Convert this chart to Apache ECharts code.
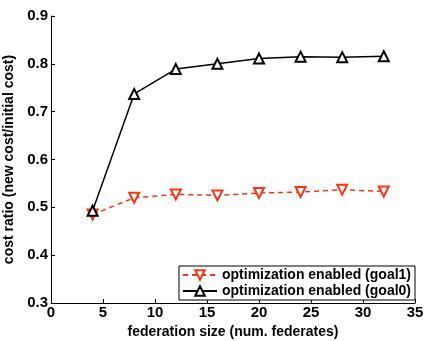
<!DOCTYPE html>
<html>
<head>
<meta charset="utf-8">
<script src="https://cdn.jsdelivr.net/npm/echarts@6/dist/echarts.min.js"></script>
<style>
html, body { margin: 0; padding: 0; background: #fff; }
#chart { width: 424px; height: 341px; }
</style>
</head>
<body>
<div id="chart"></div>
<script>
// federation sizes and cost ratios
var sizes = [4, 8, 12, 16, 20, 24, 28, 32];
var goal1 = [0.485, 0.520, 0.527, 0.525, 0.530, 0.532, 0.537, 0.533];
var goal0 = [0.493, 0.737, 0.789, 0.800, 0.811, 0.815, 0.814, 0.816];
var names = ['optimization enabled (goal1)', 'optimization enabled (goal0)'];

function pairs(xs, ys) {
	var out = [];
	for (var i = 0; i < xs.length; i++) out.push([xs[i], ys[i]]);
	return out;
}

var font = 'Liberation Sans, Arial, sans-serif';
var chart = echarts.init(document.getElementById('chart'));
var option = {
	animation: false,
	backgroundColor: '#fff',
	textStyle: { fontFamily: font },
	grid: { left: 51, right: 9, top: 16, bottom: 38, outerBoundsMode: 'none', containLabel: false },
	legend: {
		orient: 'vertical',
		right: 9,
		bottom: 41,
		data: names,
		backgroundColor: '#fff',
		borderColor: '#000',
		borderWidth: 1,
		padding: [2, 4, 2, 3],
		itemGap: 2,
		itemWidth: 34,
		itemHeight: 12,
		textStyle: { fontFamily: font, fontWeight: 'bold', fontSize: 14, color: '#000' }
	},
	xAxis: {
		type: 'value',
		min: 0, max: 35, interval: 5,
		name: 'federation size (num. federates)',
		nameLocation: 'middle',
		nameGap: 18,
		nameTextStyle: { fontFamily: font, fontWeight: 'bold', fontSize: 14, color: '#000' },
		axisLine: { lineStyle: { color: '#000' } },
		axisTick: { inside: true, length: 4, lineStyle: { color: '#000' } },
		axisLabel: { margin: 2, fontFamily: font, fontWeight: 'bold', fontSize: 15, color: '#000' },
		splitLine: { show: false }
	},
	yAxis: {
		type: 'value',
		min: 0.3, max: 0.9, interval: 0.1,
		name: 'cost ratio (new cost/initial cost)',
		nameLocation: 'middle',
		nameGap: 31,
		nameTextStyle: { fontFamily: font, fontWeight: 'bold', fontSize: 14, color: '#000' },
		axisLine: { show: true, lineStyle: { color: '#000' } },
		axisTick: { show: true, inside: true, length: 4, lineStyle: { color: '#000' } },
		axisLabel: {
			margin: 3, fontFamily: font, fontWeight: 'bold', fontSize: 15, color: '#000',
			formatter: function (v) { return v.toFixed(1); }
		},
		splitLine: { show: false }
	},
	series: [
		{
			name: names[0],
			type: 'line',
			data: pairs(sizes, goal1),
			symbol: 'emptyTriangle',
			symbolRotate: 180,
			symbolSize: 10,
			color: '#ff3311',
			lineStyle: { color: '#ff3311', width: 1.5, type: [5, 4] },
			itemStyle: { color: '#ff3311', borderColor: '#ff3311', borderWidth: 1.2 },
			z: 2
		},
		{
			name: names[1],
			type: 'line',
			data: pairs(sizes, goal0),
			symbol: 'emptyTriangle',
			symbolSize: 10,
			color: '#000',
			lineStyle: { color: '#000', width: 1.5 },
			itemStyle: { color: '#000', borderColor: '#000', borderWidth: 1.2 },
			z: 3
		}
	]
};
chart.setOption(option);
</script>
</body>
</html>
